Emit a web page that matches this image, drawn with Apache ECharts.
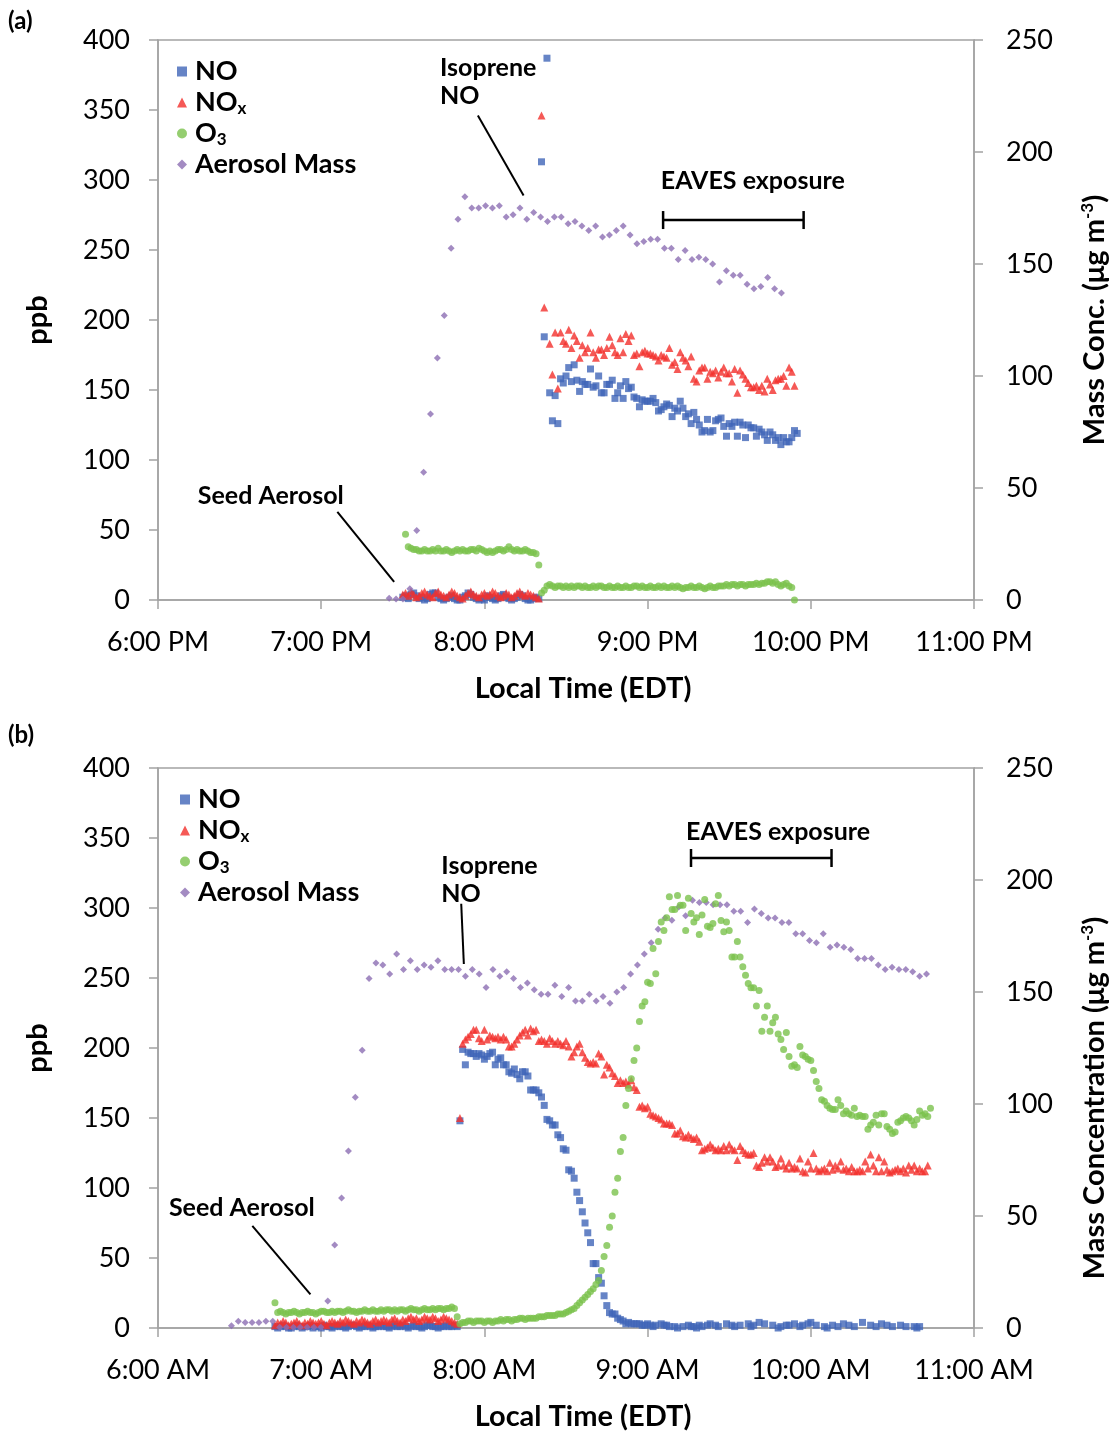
<!DOCTYPE html>
<html>
<head>
<meta charset="utf-8">
<script src="https://cdn.jsdelivr.net/npm/echarts@6/dist/echarts.min.js"></script>
<style>
html, body { margin: 0; padding: 0; background: #fff; }
#chart { width: 1117px; height: 1432px; }
</style>
</head>
<body>
<div id="chart"></div>
<script>
// values
// NO / NOx / O3 are logged once a minute (ppb), aerosol mass about every 2.5 min (ug m-3)
const AERO_STEP = 2.53

// ---- panel (a), evening run ----
const noAStart = '19:30'
const noA = [
  2, 3, 1, 4, 5, 3, 1, 2, 0, 1, 4, 5, 5, 2, 1, 0, 1, 2, 3, 1, 0, 0, 2, 3, 5, 4, 2, 1, 0, 1,
  0, 3, 2, 1, 0, 1, 3, 4, 2, 1, 0, 1, 2, 4, 3, 1, 0, 0, 1, 2, 1,
  313, 188, 387,
  148, 128, 146, 126, 158, 155, 160, 166, 156, 168, 157, 149, 156, 154, 154, 165, 152, 153, 160, 148,
  148, 154, 154, 157, 144, 148, 153, 144, 156, 151, 152, 145, 144, 138, 143, 142, 142, 142, 144, 141,
  135, 136, 138, 140, 139, 131, 137, 135, 142, 137, 131, 133, 126, 134, 129, 125, 120, 121, 129, 120,
  121, 128, 129, 130, 124, 117, 126, 124, 127, 117, 127, 125, 116, 125, 123, 123, 117, 122, 120, 118,
  114, 120, 118, 114, 116, 111, 116, 113, 113, 116, 121, 119
]
const noxAStart = '19:30'
const noxA = [
  4, 5, 3, 6, 4, 2, 3, 5, 6, 4, 3, 2, 5, 6, 4, 3, 2, 4, 6, 5, 3, 2, 1, 3, 5, 6, 4, 3, 2, 4,
  5, 3, 4, 6, 5, 3, 2, 3, 5, 4, 2, 3, 5, 6, 4, 3, 5, 4, 3, 2, 1,
  346, 209, null,
  183, 161, 191, 151, 191, 185, 183, 193, 180, 189, 185, 173, 182, 177, 180, 191, 177, 173, 179, 179,
  175, 180, 188, 182, 177, 175, 187, 177, 190, 185, 189, 175, 176, 167, 177, 178, 176, 176, 175, 174,
  171, 175, 174, 173, 180, 168, 170, 165, 177, 173, 171, 167, 174, 158, 156, 164, 166, 166, 158, 163,
  162, 164, 159, 163, 166, 162, 162, 156, 165, 148, 164, 161, 158, 155, 152, 152, 153, 150, 153, 149,
  158, 154, 150, 157, 158, 158, 160, 153, 166, 163, 153
]
const o3AStart = '19:31'
const o3A = [
  47,
  38, 37, 36, 36, 35, 35, 36, 35, 35, 36, 35, 37, 35, 35, 36, 35, 34, 35, 36, 35,
  36, 35, 35, 36, 36, 35, 37, 36, 35, 34, 35, 34, 35, 36, 36, 35, 36, 38, 36, 35,
  36, 35, 35, 36, 35, 34, 34, 33,
  25,
  5, 7, 10, 11, 10, 9, 10, 10, 9, 10, 9, 10, 9, 10, 10, 9, 10, 9, 9, 10,
  9, 10, 10, 9, 9, 10, 9, 9, 10, 9, 9, 10, 9, 9, 10, 10, 9, 10, 9, 9,
  10, 9, 9, 10, 9, 10, 9, 9, 10, 9, 10, 9, 8, 9, 9, 10, 9, 9, 10, 9,
  8, 9, 10, 9, 9, 10, 10, 10, 11, 10, 11, 11, 10, 11, 11, 10, 11, 11, 11, 12,
  11, 12, 12, 13, 13, 12, 13, 11, 10, 11, 12, 10, 9, 0
]
const aeroAStart = '19:25'
const aeroA = [
  0.8, 0.5, 0.4, 5, 31, 57, 83, 108, 127, 157, 170, 180, 175, 175, 176, 175, 176, 171, 172, 175,
  170, 173, 171, 169, 171, 171, 168, 169, 167, 165, 167, 162, 163, 165, 167, 163, 159, 160, 161, 161,
  157, 157, 152, 156, 152, 153, 152, 150, 142, 147, 145, 145, 141, 139, 140, 144, 139, 137
]

// ---- panel (b), morning run ----
const noBStart = '6:43'
const noB = [
  1, 0, 1, 2, 1, 0, 0, 1, 2, 1, 0, 1, 1, 2, 0, 1, 1, 0, 2, 1, 1, 0, 1, 2, 1, 1, 0, 1, 2, 2,
  1, 0, 1, 1, 2, 1, 0, 1, 1, 2, 1, 1, 0, 1, 2, 1, 1, 2, 1, 0, 1, 2, 1, 1, 0, 1, 2, 2, 1, 1,
  0, 1, 1, 2, 1, 1, 2, 1,
  148,
  199, 188, 197, 196, 196, 194, 196, 195, 192, 194, 196, 197, 188, 192, 193, 188, 188, 183, 182, 185,
  181, 178, 183, 183, 180, 170, 170, 170, 168, 165, 159, 149, 148, 145, 145, 138, 136, 128, 127, 113,
  112, 107, 97, 91, 83, 75, 68, 61, 46, 46, 36, 32, 23, 16, 11, 10, 10, 7, 6, 5,
  3, 4, 3, 3, 3, 3, 2,
  2, 3, 2, 1, 2, null, 3, 2, 2, 1, null, 1, 0, null, 1, null, 2, 1, 1, 0,
  2, 1, null, 2, 3, null, 2, 1, null, null, 3, null, 2, 1, null, 2, null, null, 3, 1,
  2, null, 4, null, 3, null, null, 2, null, 0, 1, null, 2, 2, null, 3, null, 1, 2, null,
  3, 4, null, 2, null, null, 1, 0, null, 2, null, 1, null, 3, null, 2, null, 1, null, null,
  4, null, null, 2, null, 1, null, 3, null, 2, null, 1, null, null, 2, null, 1, null, null, 1,
  0, 1
]
const noxBStart = '6:43'
const noxB = [
  2, 4, 3, 5, 4, 2, 3, 4, 5, 3, 2, 4, 3, 5, 4, 3, 4, 5, 3, 2, 4, 5, 4, 3, 5, 4, 6, 5, 4, 3,
  5, 4, 6, 5, 4, 3, 5, 6, 4, 5, 6, 5, 4, 6, 7, 5, 4, 6, 5, 7, 8, 6, 7, 5, 6, 8, 7, 6, 8, 7,
  5, 6, 8, 7, 6, 5, 4, 3,
  150,
  203, 206, 208, 210, 213, 213, 207, 205, 213, 206, 209, 208, 207, 208, 206, 208, 206, 201, 201, 203,
  206, 209, 211, 213, 209, 214, 212, 213, 205, 206, 205, 203, 207, 205, 203, 205, 203, 202, 205, 201,
  194, 197, 201, 203, 197, 193, 190, 189, 190, 189, 196, 194, 181, 188, 186, 182, 180, 175, 177, 175,
  176, 174, 177, 172, 170, 158, 159, 157, 158, 153, 152, 151, 150, 149, 146, 146, 146, 145, 139, 139,
  141, 137, 136, 138, 136, 135, 136, 133, 127, 128, 129, 131, 129, 127, 128, 127, 130, 127, 131, 128,
  127, 120, 130, 127, 125, 124, 124, 125, 116, 115, 118, 122, 119, 122, 119, 115, 116, 121, 116, 114,
  118, 114, 115, 114, 121, 112, 111, 119, 114, 125,
  114, 112, 113, 114, 112, 118, 113, 116, 114, 119, 113, 114, 112, 115, 112, 112, 113, 112, 119, 114,
  124, 116, 112, 122, 112, 119, 113, 111, 112, 113, 114, 112, 114, 111, 116, 113, 116, 112, 114, 112,
  112, 116
]
const o3BStart = '6:43'
const o3B = [
  18,
  11, 12, 11, 10, 11, 11, 12, 11, 10, 11, 11, 12, 11, 11, 10, 11, 12, 12, 11, 11,
  12, 11, 12, 12, 11, 12, 13, 12, 12, 11, 12, 12, 13, 12, 12, 13, 12, 12, 13, 12,
  13, 13, 12, 13, 12, 13, 13, 12, 13, 14, 13, 13, 12, 13, 14, 13, 13, 14, 13, 14,
  14, 13, 14, 14, 15, 14,
  8, 3,
  4, 4, 5, 5, 4, 5, 5, 5, 4, 5, 5, 4, 5, 5, 6, 5, 6, 6, 5, 6, 6, 7, 7, 6, 7, 7, 7,
  7, 8, 8, 8, 9, 9, 9, 9, 10, 10, 10, 11, 12, 13, 14, 16, 18, 20, 22, 24, 26, 28, 31, 34,
  41, 51, 59, 72, 80, 97, 107, 126, 136, 159, 171, 178, 191, 200, 219, 230, 233, 247, 246, 271,
  253, 276, 290, 284, 293, 308, 299, 299, 309, 302, 302, 284, 307, 296, 290, 293, 281, 295, 306, 287,
  286, 289, 303, 309, 291, 283, 290, 284, 265, 265, 276, 265, 258, 252, 246, 243, 243, 230, 241, 212,
  222, 230, 212, 218, 222, 210, 206, 199, 211, 194, 187, 188, 186, 201, 195, 194, 192, 191, 184, 176,
  171, 163, 162, 159, 157, 156, 156, 163, 159, 153, 155, 153, 152, 157, 151, 152, 151, 151, 142, 145,
  147, 152, 145, 153, 153, 144, 142, 139, 140, 147, 148, 150, 151, 150, 148, 145, 149, 155, 152, 153,
  151, 157
]
const aeroBStart = '6:27'
const aeroB = [
  1, 3, 2.5, 2.5, 2.5, 3, 3, 0.3, 0.3, 0.3, 0.3, 0.3, 0.3, 0.3, 12, 37, 58, 79, 103, 124,
  156, 163, 162, 158, 167, 160, 164, 160, 162, 161, 164, 160, 160, 160, 157, 160, 158, 152, 160, 157,
  159, 156, 152, 154, 151, 149, 149, 153, 148, 152, 146, 146, 149, 146, 148, 145, 150, 152, 158, 162,
  167, 172, 178, 183, 182, 188, 184, 191, 190, 190, 189, 189, 189, 186, 186, 181, 187, 185, 183, 183,
  181, 181, 176, 176, 173, 172, 176, 170, 171, 170, 169, 165, 165, 165, 162, 160, 161, 160, 160, 159,
  157, 158
]

const seriesNames = ['NO', 'NOx', 'O3', 'Aerosol Mass']
const ppbTicks = [0, 400, 50]
const massTicks = [0, 250, 50]

const FONT = 'Lato, "Open Sans", sans-serif'
const GREY = '#a3a3a3'
const colors = { NO: '#4065b8', NOx: '#f3302c', O3: '#7bc24c', 'Aerosol Mass': '#8c6eb3' }
const symbols = { NO: ['rect', 7], NOx: ['triangle', 8], O3: ['circle', 7], 'Aerosol Mass': ['diamond', 7] }

function toHours (hhmm) {
  let p = hhmm.split(':').map(Number)
  return p[0] + p[1] / 60
}
function timed (start, step, values) {
  let t0 = toHours(start)
  let out = []
  values.forEach((v, i) => {
    if (v !== null) out.push([t0 + i * step / 60, v])
  })
  return out
}
function clockLabel (h) {
  let hr = Math.round(h) % 24
  let h12 = hr % 12 === 0 ? 12 : hr % 12
  return h12 + ':00 ' + (hr < 12 ? 'AM' : 'PM')
}

const panels = [
  {
    top: 40, xMin: 18, xMax: 23, massName: 'Mass Conc. (μg m', massShift: 0,
    data: {
      NO: timed(noAStart, 1, noA),
      NOx: timed(noxAStart, 1, noxA),
      O3: timed(o3AStart, 1, o3A),
      'Aerosol Mass': timed(aeroAStart, AERO_STEP, aeroA)
    }
  },
  {
    top: 768, xMin: 6, xMax: 11, massName: 'Mass Concentration (μg m', massShift: 100,
    data: {
      NO: timed(noBStart, 1, noB),
      NOx: timed(noxBStart, 1, noxB),
      O3: timed(o3BStart, 1, o3B),
      'Aerosol Mass': timed(aeroBStart, AERO_STEP, aeroB)
    }
  }
]

const axisLine = { show: true, lineStyle: { color: GREY, width: 1.5 } }
const axisTick = { show: true, inside: false, length: 9, lineStyle: { color: GREY, width: 1.5 } }
const tickLabel = { color: '#000', fontFamily: FONT, fontSize: 27 }
const titleStyle = { color: '#000', fontFamily: FONT, fontSize: 29, fontWeight: 'bold' }

let grid = []
let xAxis = []
let yAxis = []
let series = []
let legend = []

panels.forEach((p, k) => {
  grid.push({ left: 158, right: 140, top: p.top, height: 560, show: true, borderColor: GREY, borderWidth: 1.5 })
  xAxis.push({
    type: 'value', gridIndex: k, min: p.xMin, max: p.xMax, interval: 1,
    axisLine, axisTick, splitLine: { show: false },
    axisLabel: Object.assign({ margin: 29, formatter: clockLabel }, tickLabel),
    name: 'Local Time (EDT)', nameLocation: 'middle', nameGap: 74,
    nameTextStyle: Object.assign({ padding: [0, 0, 0, 34] }, titleStyle)
  })
  yAxis.push({
    type: 'value', gridIndex: k, position: 'left', min: ppbTicks[0], max: ppbTicks[1], interval: ppbTicks[2],
    axisLine, axisTick, splitLine: { show: false },
    axisLabel: Object.assign({ margin: 28 }, tickLabel),
    name: 'ppb', nameLocation: 'middle', nameRotate: 90, nameGap: 106, nameTextStyle: titleStyle
  })
  yAxis.push({
    type: 'value', gridIndex: k, position: 'right', min: massTicks[0], max: massTicks[1], interval: massTicks[2],
    axisLine, axisTick, splitLine: { show: false },
    axisLabel: Object.assign({ margin: 32 }, tickLabel),
    name: '{t|' + p.massName + '}{sup|-3}{t|)}', nameLocation: 'middle', nameRotate: 90, nameGap: 105,
    nameTextStyle: Object.assign({}, titleStyle, {
      padding: [0, p.massShift, 0, 0],
      rich: {
        t: titleStyle,
        sup: { color: '#000', fontFamily: FONT, fontSize: 17, fontWeight: 'bold', verticalAlign: 'top', padding: [0, 0, 14, 0] }
      }
    })
  })
  seriesNames.forEach(name => {
    series.push({
      name, type: 'scatter', xAxisIndex: k, yAxisIndex: name === 'Aerosol Mass' ? k * 2 + 1 : k * 2,
      symbol: symbols[name][0], symbolSize: symbols[name][1],
      itemStyle: { color: colors[name] },
      data: p.data[name], z: name === 'O3' ? 3 : 2
    })
  })
  legend.push({
    orient: 'vertical', left: 172 + k * 3, top: p.top + 12, itemGap: 2, itemWidth: 10, itemHeight: 10,
    data: seriesNames,
    formatter (name) {
      if (name === 'NOx') return '{b|NO}{s|x}'
      if (name === 'O3') return '{b|O}{s|3}'
      return '{b|' + name + '}'
    },
    textStyle: {
      lineHeight: 29,
      rich: {
        b: { fontFamily: FONT, fontSize: 27, fontWeight: 'bold', color: '#000', lineHeight: 29, padding: [0, 0, 0, 3] },
        s: { fontFamily: FONT, fontSize: 17, fontWeight: 'bold', color: '#000', verticalAlign: 'bottom', lineHeight: 21 }
      }
    }
  })
})

const chart = echarts.init(document.getElementById('chart'), null, { renderer: 'canvas' })
chart.setOption({ animation: false, backgroundColor: '#fff', grid, xAxis, yAxis, legend, series })

// annotations, anchored in data space of each panel's left axis
const notes = [
  { k: 0, at: [19.728, 390], text: 'Isoprene\nNO' },
  { k: 0, at: [21.081, 299], text: 'EAVES exposure', mid: true },
  { k: 0, at: [18.244, 74], text: 'Seed Aerosol', mid: true },
  { k: 1, at: [7.736, 340], text: 'Isoprene\nNO' },
  { k: 1, at: [9.236, 354], text: 'EAVES exposure', mid: true },
  { k: 1, at: [6.067, 86], text: 'Seed Aerosol', mid: true }
]
const leaders = [
  { k: 0, from: [19.96, 346], to: [20.24, 289] },
  { k: 0, from: [19.099, 63], to: [19.447, 13] },
  { k: 1, from: [7.858, 303], to: [7.874, 260] },
  { k: 1, from: [6.578, 73], to: [6.934, 24] }
]
const brackets = [
  { k: 0, from: 21.095, to: 21.956, level: 271.4 },
  { k: 1, from: 9.266, to: 10.127, level: 335.7 }
]

function px (k, v) {
  return chart.convertToPixel({ xAxisIndex: k, yAxisIndex: k * 2 }, v)
}

let graphic = []
notes.forEach(n => {
  let p = px(n.k, n.at)
  graphic.push({
    type: 'text', x: p[0], y: p[1], z: 10,
    style: {
      text: n.text, font: 'bold 25px ' + FONT, fill: '#000', lineHeight: 28,
      align: 'left', verticalAlign: n.mid ? 'middle' : 'top'
    }
  })
})
leaders.forEach(l => {
  let a = px(l.k, l.from)
  let b = px(l.k, l.to)
  graphic.push({ type: 'line', z: 10, shape: { x1: a[0], y1: a[1], x2: b[0], y2: b[1] }, style: { stroke: '#000', lineWidth: 2 } })
})
brackets.forEach(br => {
  let a = px(br.k, [br.from, br.level])
  let b = px(br.k, [br.to, br.level])
  let st = { stroke: '#000', lineWidth: 2.5 }
  graphic.push({ type: 'line', z: 10, shape: { x1: a[0], y1: a[1], x2: b[0], y2: b[1] }, style: st })
  graphic.push({ type: 'line', z: 10, shape: { x1: a[0], y1: a[1] - 9, x2: a[0], y2: a[1] + 9 }, style: st })
  graphic.push({ type: 'line', z: 10, shape: { x1: b[0], y1: b[1] - 9, x2: b[0], y2: b[1] + 9 }, style: st })
})
graphic.push({ type: 'text', left: 8, top: 9, style: { text: '(a)', font: 'bold 24px ' + FONT, fill: '#000' } })
graphic.push({ type: 'text', left: 8, top: 723, style: { text: '(b)', font: 'bold 24px ' + FONT, fill: '#000' } })

chart.setOption({ graphic })
</script>
</body>
</html>
